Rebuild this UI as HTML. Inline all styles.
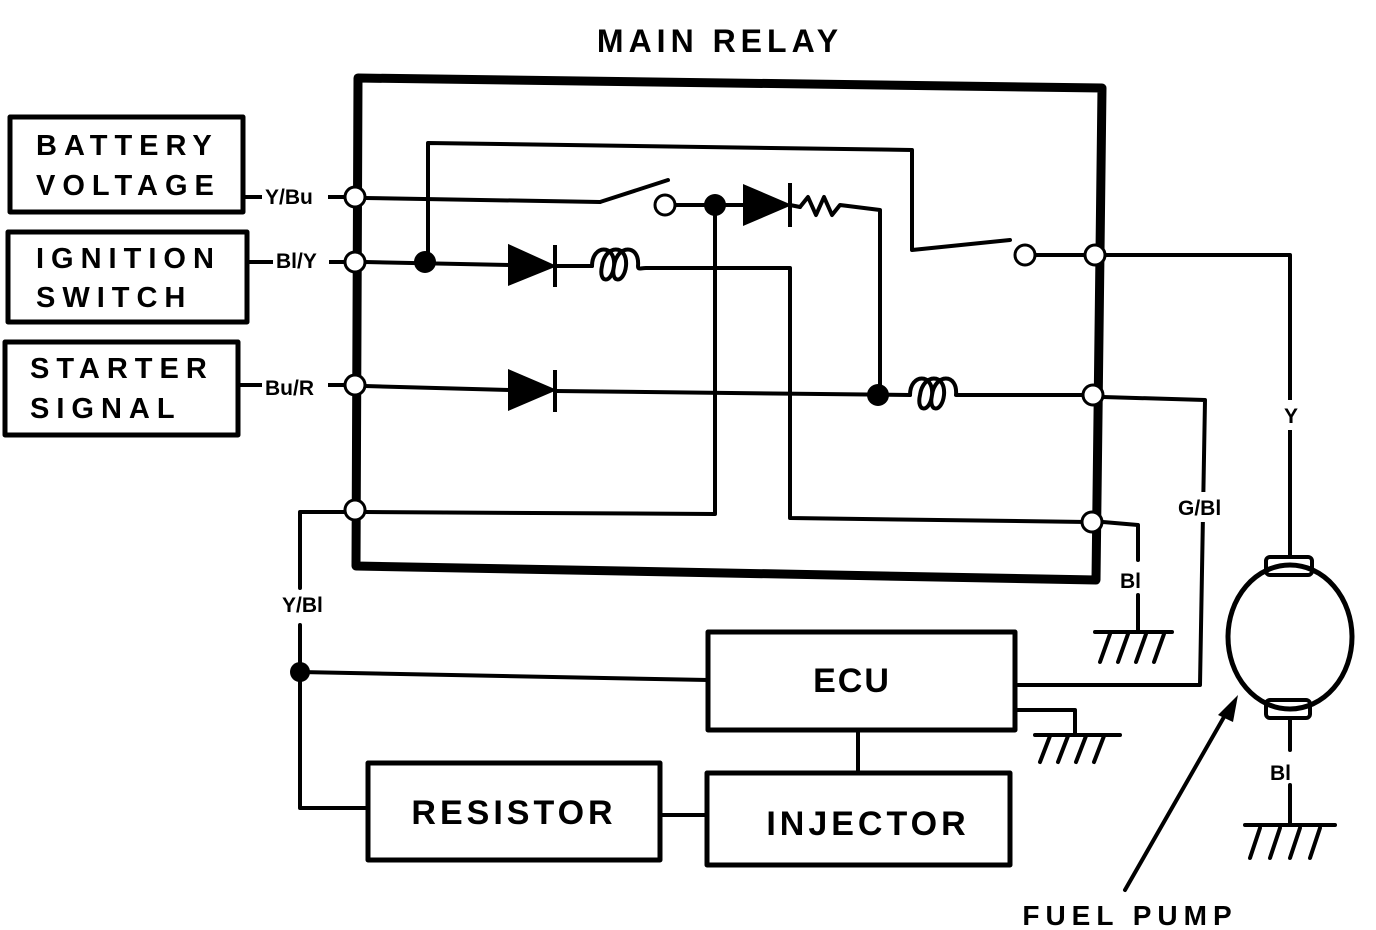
<!DOCTYPE html>
<html><head><meta charset="utf-8"><style>
html,body{margin:0;padding:0;background:#fff;}
svg{display:block;}
text{font-family:"Liberation Sans",sans-serif;font-weight:bold;fill:#000;}
</style></head><body>
<svg width="1376" height="930" viewBox="0 0 1376 930" xmlns="http://www.w3.org/2000/svg">
<g stroke="#000" fill="none" stroke-linecap="round" stroke-linejoin="round">
<path d="M358 78 L1102 88 L1096 580 L356 566 Z" stroke-width="9"/>
<rect x="10" y="117" width="233" height="95" stroke-width="5"/>
<rect x="8" y="232" width="239" height="90" stroke-width="5"/>
<rect x="5" y="342" width="233" height="93" stroke-width="5"/>
<g stroke-width="4">
<line x1="243" y1="197" x2="345" y2="197"/>
<line x1="247" y1="262" x2="345" y2="262"/>
<line x1="238" y1="385" x2="345" y2="385"/>
<line x1="365" y1="198" x2="600" y2="202"/>
<line x1="600" y1="202" x2="668" y2="180"/>
<line x1="673" y1="205" x2="745" y2="205"/>
<line x1="790" y1="205" x2="800" y2="207"/>
<path d="M800 207 l8 -10 l8 18 l8 -18 l8 18 l8 -10 L880 210 L880 395"/>
<path d="M428 262 L428 143 L912 150 L912 250 L1010 240"/>
<line x1="1033" y1="255" x2="1087" y2="255"/>
<line x1="365" y1="262" x2="510" y2="265"/>
<line x1="555" y1="266" x2="592" y2="266"/>
<path d="M592 266 c0 -22 24 -22 22 0 c-2 18 -16 18 -12 0 c3 -22 26 -22 24 0 c-2 18 -16 18 -12 0 c3 -22 26 -22 24 0 c0 4 2 2 8 2 L790 268 L790 518 L1087 522"/>
<path d="M715 205 L715 514 L365 512"/>
<line x1="365" y1="386" x2="510" y2="390"/>
<line x1="555" y1="391" x2="910" y2="395"/>
<path d="M910 395 c0 -22 24 -22 22 0 c-2 18 -16 18 -12 0 c3 -22 26 -22 24 0 c-2 18 -16 18 -12 0 c3 -22 26 -22 24 0 L1087 395"/>
<path d="M1103 255 L1290 255 L1290 557"/>
<path d="M1103 397 L1205 400 L1200 685 L1018 685"/>
<path d="M1103 522 L1138 525 L1138 560"/>
<line x1="1138" y1="595" x2="1138" y2="632"/>
<line x1="1095" y1="632" x2="1172" y2="632"/>
<path d="M1100 662 l10 -28 M1118 662 l10 -28 M1136 662 l10 -28 M1154 662 l10 -28"/>
<path d="M347 512 L300 512 L300 588"/>
<path d="M300 625 L300 808 L368 808"/>
<line x1="300" y1="672" x2="708" y2="680"/>
<path d="M1015 710 L1075 710 L1075 735"/>
<line x1="1035" y1="735" x2="1120" y2="735"/>
<path d="M1040 762 l10 -26 M1058 762 l10 -26 M1076 762 l10 -26 M1094 762 l10 -26"/>
<line x1="858" y1="730" x2="858" y2="772"/>
<line x1="660" y1="815" x2="707" y2="815"/>
<line x1="1290" y1="718" x2="1290" y2="750"/>
<line x1="1290" y1="785" x2="1290" y2="825"/>
<line x1="1245" y1="825" x2="1335" y2="825"/>
<path d="M1250 858 l10 -30 M1270 858 l10 -30 M1290 858 l10 -30 M1310 858 l10 -30"/>
<line x1="1125" y1="890" x2="1228" y2="710"/>
</g>
<rect x="708" y="632" width="307" height="98" stroke-width="5"/>
<rect x="368" y="763" width="292" height="97" stroke-width="5"/>
<rect x="707" y="773" width="303" height="92" stroke-width="5"/>
<ellipse cx="1290" cy="637" rx="62" ry="72" stroke-width="5"/>
<rect x="1266" y="557" width="46" height="18" rx="4" stroke-width="4"/>
<rect x="1266" y="700" width="44" height="18" rx="4" stroke-width="4"/>
</g>
<polygon points="1238,695 1218,715 1233,722" fill="#000"/>
<g fill="#000" stroke="#000" stroke-width="4">
<polygon points="510,247 510,283 552,266"/><line x1="555" y1="245" x2="555" y2="287"/>
<polygon points="510,372 510,408 552,390"/><line x1="555" y1="370" x2="555" y2="412"/>
<polygon points="745,187 745,223 787,205"/><line x1="790" y1="183" x2="790" y2="227"/>
</g>
<g fill="#000">
<circle cx="425" cy="262" r="11"/><circle cx="715" cy="205" r="11"/>
<circle cx="878" cy="395" r="11"/><circle cx="300" cy="672" r="10"/>
</g>
<g fill="#fff" stroke="#000" stroke-width="3">
<circle cx="355" cy="197" r="10"/><circle cx="355" cy="262" r="10"/>
<circle cx="355" cy="385" r="10"/><circle cx="355" cy="510" r="10"/>
<circle cx="1095" cy="255" r="10"/><circle cx="1093" cy="395" r="10"/>
<circle cx="1092" cy="522" r="10"/>
<circle cx="665" cy="205" r="10"/><circle cx="1025" cy="255" r="10"/>
</g>
<!-- label backgrounds -->
<g fill="#fff">
<rect x="262" y="185" width="66" height="24"/>
<rect x="273" y="250" width="56" height="24"/>
<rect x="262" y="373" width="66" height="24"/>
<rect x="1280" y="400" width="22" height="30"/>
<rect x="1175" y="492" width="52" height="30"/>
</g>
<text x="720" y="52" font-size="32" text-anchor="middle" letter-spacing="5">MAIN RELAY</text>
<g font-size="29" letter-spacing="7">
<text x="36" y="155">BATTERY</text><text x="36" y="195">VOLTAGE</text>
<text x="36" y="268">IGNITION</text><text x="36" y="307">SWITCH</text>
<text x="30" y="378">STARTER</text><text x="30" y="418">SIGNAL</text>
</g>
<g font-size="21">
<text x="265" y="204">Y/Bu</text><text x="276" y="268">Bl/Y</text>
<text x="265" y="395">Bu/R</text><text x="282" y="612">Y/Bl</text>
<text x="1284" y="423">Y</text><text x="1178" y="515">G/Bl</text>
<text x="1120" y="588">Bl</text><text x="1270" y="780">Bl</text>
</g>
<g font-size="34" text-anchor="middle">
<text x="852" y="692" letter-spacing="2">ECU</text>
<text x="514" y="824" letter-spacing="4">RESISTOR</text>
<text x="868" y="835" letter-spacing="4">INJECTOR</text>
</g>
<text x="1130" y="925" font-size="28" letter-spacing="6" text-anchor="middle">FUEL PUMP</text>
</svg>
</body></html>
